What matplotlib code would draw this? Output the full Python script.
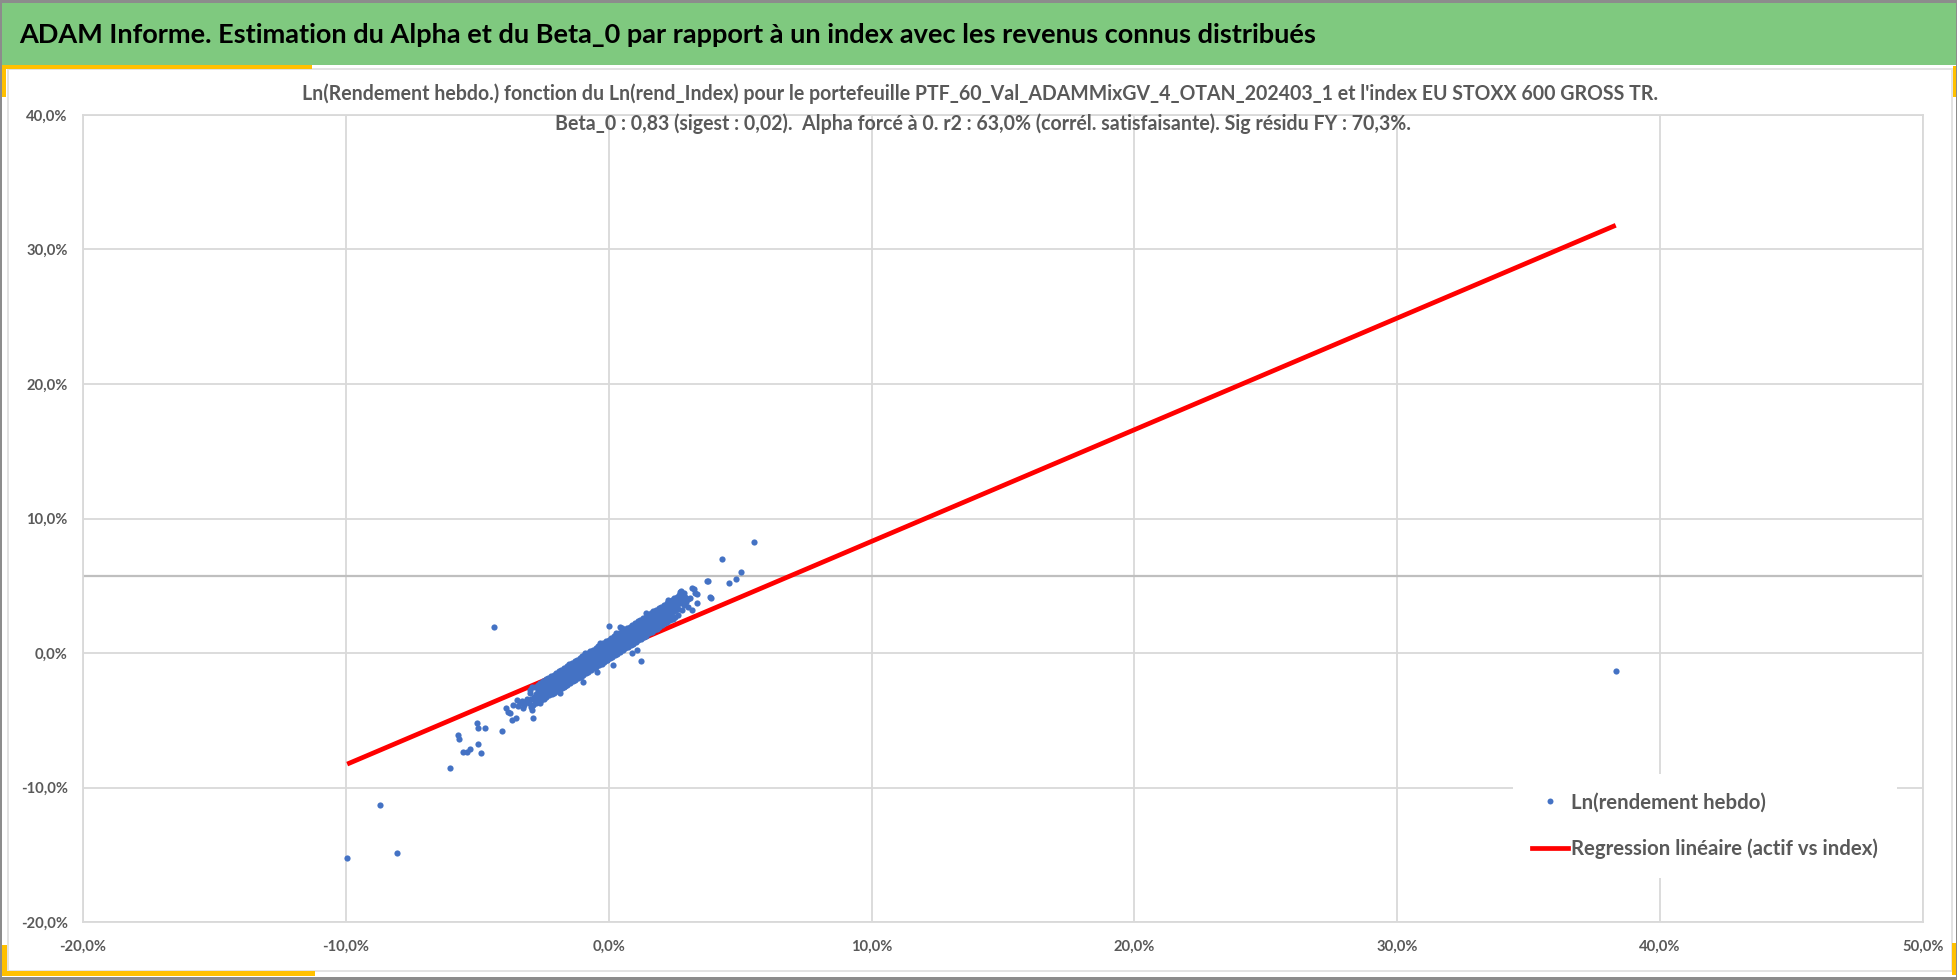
import matplotlib
matplotlib.use('Agg')
from matplotlib import pyplot as plt
from matplotlib.patches import Rectangle
from matplotlib.lines import Line2D
from matplotlib.ticker import FuncFormatter, MultipleLocator

W, H = 1958, 980
FONT = ['Lato', 'DejaVu Sans']
GREY_TXT = '#595959'
GRID = '#D9D9D9'
BLUE = '#4472C4'
RED = '#FF0000'
GREEN = '#7FC97F'
GOLD = '#FFC000'

TITLE = ('ADAM Informe. Estimation du Alpha et du Beta_0 par rapport à un index '
         'avec les revenus connus distribués')
SUB1 = ("Ln(Rendement hebdo.) fonction du Ln(rend_Index) pour le portefeuille "
        "PTF_60_Val_ADAMMixGV_4_OTAN_202403_1 et l'index EU STOXX 600 GROSS TR.")
SUB2 = ("Beta_0 : 0,83 (sigest : 0,02).  Alpha forcé à 0. r2 : 63,0% "
        "(corrél. satisfaisante). Sig résidu FY : 70,3%.")
LBL_PTS = 'Ln(rendement hebdo)'
LBL_REG = 'Regression linéaire (actif vs index)'

# weekly log returns in %, (index, portfolio)
outliers = [(-9.95, -15.22), (-8.71, -11.30), (-8.06, -14.85), (-6.04, -8.57),
            (-4.36, 1.91), (-5.72, -6.10), (-5.68, -6.42), (-5.53, -7.34),
            (-5.40, -7.34), (-5.28, -7.16), (-4.98, -6.79), (-4.86, -7.46),
            (-5.02, -5.23), (-4.98, -5.60), (-4.69, -5.55), (-4.05, -5.78),
            (38.31, -1.36)]

low_band = [(-3.90, -4.10), (-3.85, -4.40), (-3.75, -4.48), (-3.69, -4.98),
            (-3.63, -3.87), (-3.53, -4.86), (-3.50, -3.49), (-3.45, -3.95),
            (-3.37, -3.74), (-3.30, -3.55), (-3.25, -4.11), (-3.22, -3.90),
            (-3.18, -3.62), (-3.10, -3.40), (-3.05, -3.70), (-2.99, -3.00),
            (-2.95, -3.45), (-2.93, -4.24), (-2.87, -4.86), (-2.85, -3.30),
            (-2.80, -3.60), (-2.74, -3.12), (-2.70, -3.25), (-2.66, -2.90),
            (-2.61, -3.74), (-2.55, -3.37)]

mid_neg = [(-2.78, -3.05), (-2.76, -3.40), (-2.70, -2.80), (-2.68, -3.20),
           (-2.62, -2.95), (-2.60, -2.60), (-2.55, -3.05), (-2.52, -2.70),
           (-2.48, -2.45), (-2.46, -2.85), (-2.44, -3.10), (-2.40, -2.60),
           (-2.38, -2.30), (-2.36, -2.88), (-2.32, -2.50), (-2.30, -2.75),
           (-2.28, -2.20), (-2.24, -2.45), (-2.22, -2.65), (-2.20, -2.10),
           (-2.16, -2.30), (-2.14, -2.55), (-2.12, -2.05), (-2.08, -2.20),
           (-2.06, -2.45), (-2.04, -1.95), (-2.02, -2.60), (-2.00, -2.10),
           (-1.98, -2.35), (-1.96, -1.85), (-1.92, -2.00), (-1.90, -2.25),
           (-1.88, -1.80), (-1.86, -2.95), (-1.84, -1.95), (-1.82, -2.15),
           (-1.80, -1.70), (-1.76, -1.85), (-1.74, -2.05), (-1.72, -1.60),
           (-1.70, -2.50), (-1.68, -1.75), (-1.66, -1.95), (-1.64, -1.50),
           (-1.60, -1.65), (-1.58, -1.90), (-1.56, -1.40), (-1.54, -2.15),
           (-1.52, -1.55), (-1.50, -1.75), (-1.48, -1.30), (-1.44, -1.45),
           (-1.42, -1.70), (-1.40, -1.25), (-1.38, -2.00), (-1.36, -1.35),
           (-1.34, -1.55), (-1.32, -1.10), (-1.28, -1.25), (-1.26, -1.50),
           (-1.24, -1.05), (-1.22, -1.76), (-1.20, -1.15), (-1.18, -1.40),
           (-1.16, -0.95), (-1.12, -1.05), (-1.10, -1.30), (-1.08, -0.85),
           (-1.06, -0.77), (-1.04, -0.95), (-1.02, -1.20), (-1.00, -0.75),
           (-0.98, -2.13)]

core = [(-0.96, -0.85), (-0.94, -1.10), (-0.92, -0.65), (-0.90, -0.02),
        (-0.88, -0.75), (-0.86, -1.00), (-0.84, -0.55), (-0.84, -0.89),
        (-0.80, -0.65), (-0.78, -0.90), (-0.76, -0.45), (-0.74, -1.15),
        (-0.72, -0.55), (-0.70, -0.80), (-0.68, -0.35), (-0.66, -0.52),
        (-0.64, -0.45), (-0.62, -0.70), (-0.60, -0.25), (-0.58, -0.95),
        (-0.56, -0.35), (-0.54, -0.60), (-0.52, -0.15), (-0.50, -0.40),
        (-0.48, -0.25), (-0.46, -0.50), (-0.46, -1.39), (-0.44, -0.05),
        (-0.40, -0.15), (-0.38, -0.40), (-0.36, 0.05), (-0.34, -0.60),
        (-0.32, -0.05), (-0.33, 0.72), (-0.30, -0.30), (-0.28, 0.15),
        (-0.24, 0.00), (-0.22, -0.25), (-0.21, 0.22), (-0.20, 0.30),
        (-0.16, 0.10), (-0.14, -0.15), (-0.12, 0.35), (-0.10, -0.30),
        (-0.08, 0.20), (-0.08, -0.52), (-0.06, -0.05), (-0.04, 0.45),
        (0.00, 0.30), (0.02, 0.05), (0.02, 2.01), (0.05, 0.72), (0.04, 0.55),
        (0.08, 0.40), (0.10, 0.15), (0.12, 0.65), (0.14, -0.10),
        (0.16, 0.50), (0.17, -0.89), (0.18, 0.25), (0.20, 0.75),
        (0.24, 0.60), (0.26, 0.35), (0.27, 1.46), (0.28, 0.85), (0.30, -0.02),
        (0.32, 0.70), (0.34, 0.45), (0.36, 0.95), (0.38, 0.20),
        (0.40, 0.80), (0.42, 0.55), (0.43, 1.91), (0.44, 1.05),
        (0.48, 0.90), (0.49, 1.83), (0.50, 0.65), (0.52, 1.15), (0.54, 0.40),
        (0.56, 1.00), (0.56, 1.09), (0.58, 0.75), (0.60, 1.25),
        (0.64, 1.10), (0.66, 0.85), (0.68, 1.35), (0.70, 0.60),
        (0.72, 1.20), (0.74, 0.95), (0.76, 1.45), (0.78, 0.80),
        (0.80, 1.30), (0.82, 1.05), (0.84, 1.55), (0.86, 0.90),
        (0.87, -0.02), (0.88, 1.40), (0.90, 1.15), (0.92, 1.65),
        (0.96, 1.50), (0.98, 1.25), (1.00, 1.75), (1.02, 1.10)]

mid_pos = [(1.06, 0.22), (1.06, 1.60), (1.08, 1.35), (1.10, 1.85),
           (1.14, 1.70), (1.16, 1.45), (1.18, 1.95), (1.20, 1.20),
           (1.22, -0.59), (1.22, 1.80), (1.24, 1.55), (1.26, 2.05),
           (1.30, 1.90), (1.32, 1.65), (1.34, 2.15), (1.36, 1.40),
           (1.38, 2.00), (1.40, 1.75), (1.42, 2.95), (1.42, 2.25),
           (1.46, 2.10), (1.48, 1.85), (1.50, 2.35), (1.52, 1.60),
           (1.54, 2.20), (1.56, 1.95), (1.58, 2.45), (1.60, 2.00),
           (1.62, 2.30), (1.64, 2.05), (1.67, 3.00), (1.66, 2.55),
           (1.70, 2.40), (1.72, 2.15), (1.74, 2.65), (1.76, 1.90),
           (1.78, 2.50), (1.80, 2.25), (1.82, 2.75), (1.84, 2.35),
           (1.86, 2.60), (1.88, 2.35), (1.90, 2.85), (1.92, 2.10),
           (1.95, 2.83), (1.96, 2.70), (1.98, 2.45), (2.00, 2.95),
           (2.04, 2.80), (2.06, 2.55), (2.08, 3.05), (2.10, 2.45),
           (2.12, 2.90), (2.14, 2.65), (2.16, 3.15), (2.18, 2.70),
           (2.20, 3.00), (2.22, 2.75), (2.24, 3.25), (2.27, 3.94),
           (2.28, 3.10), (2.30, 2.85), (2.32, 3.35), (2.34, 3.60),
           (2.36, 3.20), (2.38, 2.95), (2.40, 3.45), (2.42, 3.05),
           (2.44, 3.30), (2.46, 3.55), (2.48, 3.10), (2.50, 3.75),
           (2.52, 3.40), (2.54, 3.20), (2.56, 3.65), (2.58, 3.30),
           (2.60, 3.50), (2.62, 3.85), (2.64, 3.30), (2.66, 4.05)]

# outer edges of the dense band (upper and lower fringe)
fringe = [(-3.00, -2.75), (-2.97, -4.05), (-2.90, -2.55), (-2.87, -3.90),
          (-2.80, -2.50), (-2.77, -3.75), (-2.70, -2.35), (-2.67, -3.65),
          (-2.60, -2.20), (-2.57, -3.50), (-2.50, -2.10), (-2.47, -3.45),
          (-2.40, -1.95), (-2.37, -3.30), (-2.30, -1.85), (-2.27, -3.15),
          (-2.20, -1.70), (-2.17, -3.05), (-2.10, -1.60), (-2.07, -2.95),
          (-2.00, -1.45), (-1.97, -2.85), (-1.90, -1.35), (-1.87, -2.70),
          (-1.80, -1.25), (-1.77, -2.60), (-1.70, -1.10), (-1.67, -2.45),
          (-1.60, -0.95), (-1.57, -2.35), (-1.50, -0.85), (-1.47, -2.25),
          (-1.40, -0.75), (-1.37, -2.10), (-1.30, -0.60), (-1.27, -2.00),
          (-1.20, -0.50), (-1.17, -1.85), (-1.10, -0.35), (-1.07, -1.75),
          (-1.00, -0.25), (-0.97, -1.60), (-0.90, -0.10), (-0.87, -1.50),
          (-0.80, 0.00), (-0.77, -1.40), (-0.70, 0.15), (-0.67, -1.25),
          (-0.60, 0.25), (-0.57, -1.15), (-0.50, 0.40), (-0.47, -1.05),
          (-0.40, 0.50), (-0.37, -0.90), (-0.30, 0.65), (-0.27, -0.80),
          (-0.20, 0.75), (-0.17, -0.65), (-0.10, 0.90), (-0.07, -0.55),
          (0.00, 1.00), (0.03, -0.40), (0.10, 1.10), (0.13, -0.30),
          (0.20, 1.25), (0.23, -0.15), (0.30, 1.35), (0.33, -0.05),
          (0.40, 1.50), (0.43, 0.10), (0.50, 1.60), (0.53, 0.20),
          (0.60, 1.70), (0.63, 0.35), (0.70, 1.85), (0.73, 0.45),
          (0.80, 1.95), (0.83, 0.60), (0.90, 2.10), (0.93, 0.70),
          (1.00, 2.20), (1.03, 0.85), (1.10, 2.35), (1.13, 0.95),
          (1.20, 2.45), (1.23, 1.05), (1.30, 2.60), (1.33, 1.20),
          (1.40, 2.70), (1.43, 1.30), (1.50, 2.85), (1.53, 1.45),
          (1.60, 2.95), (1.63, 1.55), (1.70, 3.10), (1.73, 1.70),
          (1.80, 3.20), (1.83, 1.80), (1.90, 3.35), (1.93, 1.95),
          (2.00, 3.45), (2.03, 2.05), (2.10, 3.60), (2.13, 2.20),
          (2.20, 3.70), (2.23, 2.30), (2.30, 3.85), (2.33, 2.45),
          (2.40, 3.95), (2.43, 2.55), (2.50, 4.10), (2.53, 2.70),
          (2.60, 4.20), (2.63, 2.80)]

# inner filling of the dense band
fill = [(-2.45, -2.39), (-2.45, -3.04), (-2.35, -2.27), (-2.35, -2.92),
        (-2.25, -2.15), (-2.25, -2.80), (-2.15, -2.02), (-2.15, -2.67),
        (-2.05, -1.90), (-2.05, -2.55), (-1.95, -1.78), (-1.95, -2.43),
        (-1.85, -1.66), (-1.85, -2.31), (-1.75, -1.54), (-1.75, -2.19),
        (-1.65, -1.41), (-1.65, -2.06), (-1.55, -1.29), (-1.55, -1.94),
        (-1.45, -1.17), (-1.45, -1.82), (-1.35, -1.05), (-1.35, -1.70),
        (-1.25, -0.93), (-1.25, -1.58), (-1.15, -0.80), (-1.15, -1.45),
        (-1.05, -0.68), (-1.05, -1.33), (-0.95, -0.56), (-0.95, -1.21),
        (-0.85, -0.44), (-0.85, -1.09), (-0.75, -0.32), (-0.75, -0.97),
        (-0.65, -0.19), (-0.65, -0.84), (-0.55, -0.07), (-0.55, -0.72),
        (-0.45, 0.05), (-0.45, -0.60), (-0.35, 0.17), (-0.35, -0.48),
        (-0.25, 0.30), (-0.25, -0.35), (-0.15, 0.42), (-0.15, -0.23),
        (-0.05, 0.54), (-0.05, -0.11), (0.05, 0.66), (0.05, 0.01),
        (0.15, 0.78), (0.15, 0.13), (0.25, 0.91), (0.25, 0.26),
        (0.35, 1.03), (0.35, 0.38), (0.45, 1.15), (0.45, 0.50),
        (0.55, 1.27), (0.55, 0.62), (0.65, 1.39), (0.65, 0.74),
        (0.75, 1.52), (0.75, 0.87), (0.85, 1.64), (0.85, 0.99),
        (0.95, 1.76), (0.95, 1.11), (1.05, 1.88), (1.05, 1.23),
        (1.15, 2.00), (1.15, 1.35), (1.25, 2.13), (1.25, 1.48),
        (1.35, 2.25), (1.35, 1.60), (1.45, 2.37), (1.45, 1.72),
        (1.55, 2.49), (1.55, 1.84), (1.65, 2.61), (1.65, 1.96),
        (1.75, 2.74), (1.75, 2.09), (1.85, 2.86), (1.85, 2.21),
        (1.95, 2.98), (1.95, 2.33), (2.05, 3.10), (2.05, 2.45),
        (2.15, 3.22), (2.15, 2.57), (2.25, 3.35), (2.25, 2.70),
        (2.35, 3.47), (2.35, 2.82)]

high_band = [(2.68, 4.30), (2.70, 3.70), (2.71, 4.56), (2.74, 4.63),
             (2.75, 4.10), (2.78, 3.20), (2.80, 3.90), (2.84, 4.31),
             (2.85, 3.55), (2.88, 4.45), (2.90, 4.20), (2.95, 3.80),
             (3.00, 4.00), (3.03, 3.44), (3.08, 4.10), (3.16, 4.81),
             (3.16, 3.20), (3.24, 4.75), (3.28, 4.44), (3.35, 3.70),
             (3.37, 4.38), (3.75, 5.38), (3.78, 5.32), (3.85, 4.19),
             (3.88, 4.08), (4.32, 7.01), (4.56, 5.22), (4.85, 5.52),
             (5.02, 5.99), (5.53, 8.28)]

# regression line drawn between the extreme index returns (beta 0.83, alpha 0)
reg_x = [-9.95, 38.31]
reg_y = [-8.26, 31.80]

# stray horizontal rule visible in the source chart
rule_y = 5.72

all_pts = outliers + low_band + mid_neg + core + mid_pos + fringe + fill + high_band
idx_ret = [p[0] for p in all_pts]
ptf_ret = [p[1] for p in all_pts]


def px(x0, y0, x1, y1):
    """pixel box (top-left origin) -> figure fraction rect args"""
    return (x0 / W, 1 - y1 / H), (x1 - x0) / W, (y1 - y0) / H


def rect(fig, x0, y0, x1, y1, color, z=0):
    xy, w, h = px(x0, y0, x1, y1)
    fig.patches.append(Rectangle(xy, w, h, transform=fig.transFigure,
                                 facecolor=color, edgecolor='none', zorder=z))


def fit(fig, t, width_px):
    r = fig.canvas.get_renderer()
    w = t.get_window_extent(r).width
    t.set_fontsize(t.get_fontsize() * width_px / w)
    return t.get_fontsize()


fig = plt.figure(figsize=(W / 100, H / 100), dpi=100)
fig.patch.set_facecolor('white')

# frame decoration
rect(fig, 0, 0, W, 3, '#8C8C8C')
rect(fig, 0, 3, W, 65, GREEN)
rect(fig, 7, 68, 1953, 70, '#E3E3E3')
rect(fig, 7, 68, 9, 972, '#E3E3E3')
rect(fig, 1951, 68, 1953, 972, '#E3E3E3')
rect(fig, 7, 970, 1953, 972, '#E3E3E3')
rect(fig, 0, 65, 312, 69, GOLD)
rect(fig, 2, 65, 6, 97, GOLD)
rect(fig, 1953, 66, 1957, 97, GOLD)
rect(fig, 0, 971, 315, 976, GOLD)
rect(fig, 2, 945, 7, 976, GOLD)
rect(fig, 1952, 943, 1956, 975, GOLD)
rect(fig, 0, 0, 2, H, '#8C8C8C')
rect(fig, W - 2, 0, W, H, '#8C8C8C')
rect(fig, 0, H - 3, W, H, '#8C8C8C')

t = fig.text(19 / W, 1 - 35 / H, TITLE, family=FONT, fontsize=20,
             weight='bold', color='black', va='center', ha='left')
fit(fig, t, 1296)
t1 = fig.text(980 / W, 1 - 94 / H, SUB1, family=FONT, fontsize=14,
              weight='bold', color=GREY_TXT, va='center', ha='center')
sub_fs = fit(fig, t1, 1361)
fig.text(983 / W, 1 - 124 / H, SUB2, family=FONT, fontsize=sub_fs,
         weight='bold', color=GREY_TXT, va='center', ha='center')

# font sizes for ticks and legend from measured widths
tmp = fig.text(0, 0, '-20,0%', family=FONT, fontsize=10, weight='bold')
tick_fs = fit(fig, tmp, 47)
tmp.remove()
tmp = fig.text(0, 0, LBL_REG, family=FONT, fontsize=12, weight='bold')
leg_fs = fit(fig, tmp, 304)
tmp.remove()

ax = fig.add_axes([83 / W, 1 - 922 / H, 1840 / W, 807 / H])
ax.set_xlim(-20, 50)
ax.set_ylim(-20, 40)
ax.xaxis.set_major_locator(MultipleLocator(10))
ax.yaxis.set_major_locator(MultipleLocator(10))
pct = FuncFormatter(lambda v, _: f'{v:.1f}%'.replace('.', ','))
ax.xaxis.set_major_formatter(pct)
ax.yaxis.set_major_formatter(pct)
ax.grid(True, color=GRID, linewidth=1.3, zorder=0)
ax.set_axisbelow(True)
for s in ax.spines.values():
    s.set_color(GRID)
    s.set_linewidth(1.3)
ax.tick_params(length=0, colors=GREY_TXT, labelsize=tick_fs)
ax.tick_params(axis='x', pad=13)
ax.tick_params(axis='y', pad=11)
for lab in ax.get_xticklabels() + ax.get_yticklabels():
    lab.set_family(FONT)
    lab.set_weight('bold')

ax.axhline(rule_y, color='#BFBFBF', linewidth=1.6, zorder=1)
ax.plot(reg_x, reg_y, color=RED, linewidth=3.4, solid_capstyle='butt',
        zorder=2, label=LBL_REG)
ax.scatter(idx_ret, ptf_ret, s=20, color=BLUE, linewidths=0, zorder=3,
           label=LBL_PTS)

handles = [Line2D([], [], linestyle='none', marker='o', markersize=4.3,
                  color=BLUE, markeredgewidth=0),
           Line2D([], [], color=RED, linewidth=3.4)]
leg = ax.legend(handles, [LBL_PTS, LBL_REG], loc='center',
                bbox_to_anchor=(0.8815, 0.119), frameon=True, fancybox=False,
                facecolor='white', edgecolor='none', framealpha=1,
                prop={'family': FONT, 'size': leg_fs, 'weight': 'bold'},
                labelcolor=GREY_TXT, handlelength=1.8, handletextpad=0.15,
                labelspacing=1.3, borderpad=0.9)
leg.set_zorder(5)

fig.savefig('out.png', dpi=100, facecolor='white')
